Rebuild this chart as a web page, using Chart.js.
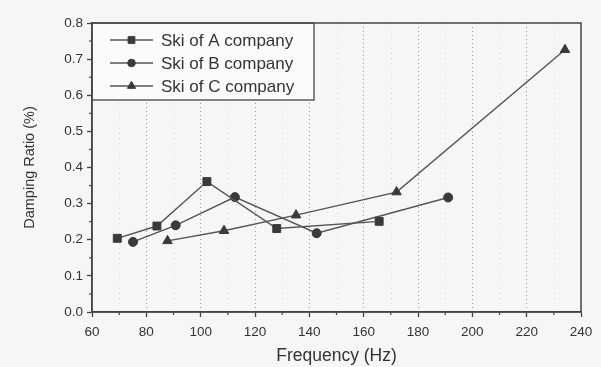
<!DOCTYPE html>
<html>
<head>
<meta charset="utf-8">
<script src="https://cdn.jsdelivr.net/npm/chart.js@4.4.1/dist/chart.umd.min.js"></script>
<style>
  html, body { margin: 0; padding: 0; background: #f6f6f6; }
  #wrap { width: 601px; height: 367px; position: relative; }
</style>
</head>
<body>
<div id="wrap"><canvas id="dampingChart"></canvas></div>
<script>
// values
const seriesNames = ['Ski of A company', 'Ski of B company', 'Ski of C company'];

const freqA = [69.3, 83.9, 102.3, 128.0, 165.7];
const dampA = [0.204, 0.238, 0.361, 0.231, 0.251];

const freqB = [75.1, 90.8, 112.6, 142.7, 191.1];
const dampB = [0.194, 0.240, 0.318, 0.218, 0.317];

const freqC = [87.8, 108.6, 135.1, 172.1, 234.1];
const dampC = [0.197, 0.225, 0.268, 0.332, 0.726];

const xTicks = [60, 80, 100, 120, 140, 160, 180, 200, 220, 240];
const yTicks = [0.0, 0.1, 0.2, 0.3, 0.4, 0.5, 0.6, 0.7, 0.8];

const lineColor = '#555555';
const markColor = '#3a3a3a';
const axisColor = '#454545';
const fontFamily = '"Liberation Sans", Arial, sans-serif';

function toPoints(xs, ys) {
    return xs.map(function(x, i) { return { x: x, y: ys[i] }; });
}

const markers = [
    { style: 'rect', radius: 5.6 },
    { style: 'circle', radius: 4.5 },
    { style: 'triangle', radius: 5.5 }
];

const datasets = [[freqA, dampA], [freqB, dampB], [freqC, dampC]].map(function(s, i) {
    return {
        label: seriesNames[i],
        data: toPoints(s[0], s[1]),
        borderColor: lineColor,
        borderWidth: 1.4,
        backgroundColor: markColor,
        pointBackgroundColor: markColor,
        pointBorderColor: markColor,
        pointBorderWidth: 1,
        pointStyle: markers[i].style,
        pointRadius: markers[i].radius,
        tension: 0
    };
});

// minor ticks, faint minor grid, frame and boxed legend inside the plot
const framePlugin = {
    id: 'frame',
    beforeDraw: function(chart) {
        const ctx = chart.ctx;
        ctx.save();
        ctx.fillStyle = '#f6f6f6';
        ctx.fillRect(0, 0, chart.width, chart.height);
        ctx.restore();
    },
    beforeDatasetsDraw: function(chart) {
        const ctx = chart.ctx;
        const area = chart.chartArea;
        const xs = chart.scales.x;
        const ys = chart.scales.y;
        ctx.save();
        // faint minor grid lines
        ctx.strokeStyle = '#dcdcdc';
        ctx.lineWidth = 1;
        ctx.setLineDash([1, 4]);
        for (let v = 70; v < 240; v += 20) {
            const px = Math.round(xs.getPixelForValue(v)) + 0.5;
            ctx.beginPath();
            ctx.moveTo(px, area.top);
            ctx.lineTo(px, area.bottom);
            ctx.stroke();
        }
        ctx.setLineDash([]);
        // minor ticks
        ctx.strokeStyle = axisColor;
        ctx.lineWidth = 1.2;
        for (let v = 70; v < 240; v += 20) {
            const px = xs.getPixelForValue(v);
            ctx.beginPath();
            ctx.moveTo(px, area.bottom);
            ctx.lineTo(px, area.bottom + 3);
            ctx.stroke();
        }
        for (let k = 0; k < yTicks.length - 1; k++) {
            const py = ys.getPixelForValue(yTicks[k] + 0.05);
            ctx.beginPath();
            ctx.moveTo(area.left, py);
            ctx.lineTo(area.left - 3, py);
            ctx.stroke();
        }
        // legend box
        const boxRight = 314, boxBottom = 100;
        ctx.fillStyle = '#fbfbfb';
        ctx.fillRect(area.left, area.top, boxRight - area.left, boxBottom - area.top);
        ctx.strokeStyle = axisColor;
        ctx.lineWidth = 1.3;
        ctx.strokeRect(area.left, area.top, boxRight - area.left, boxBottom - area.top);
        const rows = [40, 63, 86];
        ctx.font = '17px ' + fontFamily;
        ctx.textBaseline = 'middle';
        ctx.textAlign = 'left';
        chart.data.datasets.forEach(function(ds, i) {
            const y = rows[i];
            ctx.strokeStyle = lineColor;
            ctx.lineWidth = 1.4;
            ctx.beginPath();
            ctx.moveTo(110, y);
            ctx.lineTo(153, y);
            ctx.stroke();
            ctx.fillStyle = markColor;
            ctx.strokeStyle = markColor;
            ctx.lineWidth = 1;
            if (Chart.helpers && Chart.helpers.drawPoint) {
                Chart.helpers.drawPoint(ctx, { pointStyle: ds.pointStyle, radius: ds.pointRadius * 0.85, borderWidth: 1 }, 131.5, y);
            }
            ctx.fillStyle = '#333333';
            ctx.fillText(ds.label, 161, y + 1);
        });
        ctx.restore();
    },
    afterDraw: function(chart) {
        const ctx = chart.ctx;
        const area = chart.chartArea;
        ctx.save();
        ctx.strokeStyle = axisColor;
        ctx.lineWidth = 1.5;
        ctx.strokeRect(area.left, area.top, area.right - area.left, area.bottom - area.top);
        ctx.restore();
    }
};

const ctx = document.getElementById('dampingChart').getContext('2d');

new Chart(ctx, {
    type: 'line',
    data: { datasets: datasets },
    options: {
        responsive: true,
        maintainAspectRatio: false,
        animation: false,
        layout: { padding: { left: 0, top: 23, right: 20, bottom: 0 } },
        plugins: {
            legend: { display: false },
            tooltip: { enabled: false }
        },
        scales: {
            x: {
                type: 'linear',
                min: xTicks[0],
                max: xTicks[xTicks.length - 1],
                afterBuildTicks: function(scale) {
                    scale.ticks = xTicks.map(function(v) { return { value: v }; });
                },
                afterFit: function(scale) { scale.height = 55; },
                ticks: {
                    color: '#333333',
                    font: { family: fontFamily, size: 13.5 },
                    padding: 7,
                    maxRotation: 0,
                    autoSkip: false
                },
                grid: {
                    color: function(c) {
                        const v = c.tick ? c.tick.value : 0;
                        return (v === xTicks[0] || v === xTicks[xTicks.length - 1]) ? 'rgba(0,0,0,0)' : '#9a9a9a';
                    },
                    lineWidth: 1,
                    tickColor: axisColor,
                    tickLength: 5,
                    tickWidth: 1.3
                },
                border: { color: axisColor, width: 1.5, dash: [1, 3] },
                title: {
                    display: true,
                    text: 'Frequency (Hz)',
                    color: '#333333',
                    font: { family: fontFamily, size: 17.5 },
                    padding: { top: 0, bottom: 0 }
                }
            },
            y: {
                type: 'linear',
                min: yTicks[0],
                max: yTicks[yTicks.length - 1],
                afterBuildTicks: function(scale) {
                    scale.ticks = yTicks.map(function(v) { return { value: v }; });
                },
                afterFit: function(scale) { scale.width = 92; },
                ticks: {
                    color: '#333333',
                    font: { family: fontFamily, size: 13.5 },
                    padding: 4,
                    callback: function(v) { return Number(v).toFixed(1); }
                },
                grid: {
                    drawOnChartArea: false,
                    tickColor: axisColor,
                    tickLength: 5,
                    tickWidth: 1.3
                },
                border: { color: axisColor, width: 1.5 },
                title: {
                    display: true,
                    text: 'Damping Ratio (%)',
                    color: '#333333',
                    font: { family: fontFamily, size: 14.5 },
                    padding: { top: 21, bottom: 0 }
                }
            }
        }
    },
    plugins: [framePlugin]
});
</script>
</body>
</html>
